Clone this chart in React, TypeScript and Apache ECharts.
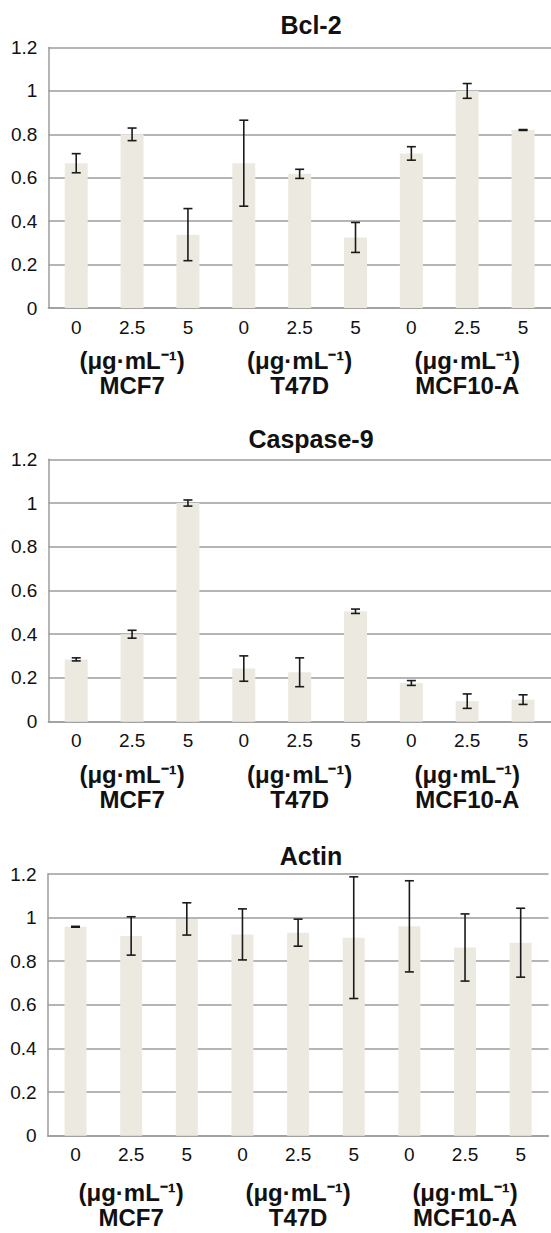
import React, { useEffect, useRef } from "react";
import * as echarts from "echarts";

const cellLines = ["MCF7", "T47D", "MCF10-A"];
const doses = ["0", "2.5", "5"];
const unitLabel = "(μg·mL⁻¹)";

const bcl2Values = [0.667, 0.8, 0.338, 0.667, 0.618, 0.325, 0.712, 1.0, 0.82];
const bcl2Errors = [0.044, 0.029, 0.12, 0.198, 0.021, 0.069, 0.031, 0.034, 0.002];

const casp9Values = [0.285, 0.4, 1.0, 0.243, 0.226, 0.505, 0.177, 0.094, 0.101];
const casp9Errors = [0.007, 0.018, 0.014, 0.058, 0.066, 0.01, 0.011, 0.033, 0.022];

const actinValues = [0.958, 0.916, 0.994, 0.923, 0.931, 0.908, 0.96, 0.863, 0.885];
const actinErrors = [0.002, 0.088, 0.074, 0.117, 0.062, 0.279, 0.209, 0.154, 0.158];

const panelTitles = ["Bcl-2", "Caspase-9", "Actin"];
const yMin = 0;
const yMax = 1.2;
const yStep = 0.2;

const FONT = "'Liberation Sans', Arial, Helvetica, sans-serif";
const GRID_COLOR = "#9c9c9c";
const BAR_COLOR = "#ECEAE0";
const ERR_COLOR = "#1a1a1a";

const layouts = [
  { top: 47.5, height: 260.5, left: 48.3, right: -8.5, barWidth: 23, titleY: 25, tickMargin: 10, groupMargin: 40 },
  { top: 459.3, height: 262.4, left: 48.3, right: -8.5, barWidth: 23, titleY: 439, tickMargin: 9, groupMargin: 40 },
  { top: 874, height: 261.7, left: 47.7, right: 2.5, barWidth: 22, titleY: 855.5, tickMargin: 9, groupMargin: 44 },
];

const panelData = [
  { values: bcl2Values, errors: bcl2Errors },
  { values: casp9Values, errors: casp9Errors },
  { values: actinValues, errors: actinErrors },
];

const xCategories: string[] = [];
cellLines.forEach(() => doses.forEach((d) => xCategories.push(d)));

function errorRender(params: any, api: any) {
  const x = api.value(0);
  const lo = api.value(1);
  const hi = api.value(2);
  const pHi = api.coord([x, hi]);
  const pLo = api.coord([x, lo]);
  const hw = 4.5;
  const style = { stroke: ERR_COLOR, lineWidth: 1.6 };
  return {
    type: "group",
    children: [
      { type: "line", shape: { x1: pHi[0], y1: pHi[1], x2: pLo[0], y2: pLo[1] }, style },
      { type: "line", shape: { x1: pHi[0] - hw, y1: pHi[1], x2: pHi[0] + hw, y2: pHi[1] }, style },
      { type: "line", shape: { x1: pLo[0] - hw, y1: pLo[1], x2: pLo[0] + hw, y2: pLo[1] }, style },
    ],
  };
}

function buildOption() {
  const grid: any[] = [];
  const xAxis: any[] = [];
  const yAxis: any[] = [];
  const series: any[] = [];
  const graphic: any[] = [];

  layouts.forEach((L, k) => {
    grid.push({ left: L.left, right: L.right, top: L.top, height: L.height, containLabel: false });
    xAxis.push({
      gridIndex: k,
      type: "category",
      position: "bottom",
      data: xCategories,
      boundaryGap: true,
      axisLine: { show: true, lineStyle: { color: GRID_COLOR, width: 1.5 } },
      axisTick: { show: false },
      axisLabel: { interval: 0, margin: L.tickMargin, fontSize: 19, lineHeight: 19, color: "#111", fontFamily: FONT },
      splitLine: { show: false },
    });
    xAxis.push({
      gridIndex: k,
      type: "category",
      position: "bottom",
      data: cellLines,
      boundaryGap: true,
      axisLine: { show: false },
      axisTick: { show: false },
      axisLabel: {
        interval: 0,
        margin: L.groupMargin,
        fontSize: 24,
        lineHeight: 25,
        fontWeight: "bold",
        color: "#111",
        fontFamily: FONT,
        formatter: (v: string) => unitLabel + "\n" + v,
      },
      splitLine: { show: false },
    });
    yAxis.push({
      gridIndex: k,
      type: "value",
      min: yMin,
      max: yMax,
      interval: yStep,
      axisLine: { show: true, lineStyle: { color: GRID_COLOR, width: 1.5 } },
      axisTick: { show: false },
      splitLine: { show: true, lineStyle: { color: GRID_COLOR, width: 1.5 } },
      axisLabel: {
        margin: 11,
        fontSize: 19,
        color: "#111",
        fontFamily: FONT,
        formatter: (v: number) => String(Math.round(v * 10) / 10),
      },
    });
    const d = panelData[k];
    series.push({
      type: "bar",
      xAxisIndex: k * 2,
      yAxisIndex: k,
      data: d.values,
      barWidth: L.barWidth,
      itemStyle: { color: BAR_COLOR },
      silent: true,
      z: 2,
    });
    series.push({
      type: "custom",
      xAxisIndex: k * 2,
      yAxisIndex: k,
      renderItem: errorRender,
      data: d.values.map((v, i) => [i, v - d.errors[i], v + d.errors[i]]),
      encode: { x: 0, y: [1, 2] },
      silent: true,
      z: 5,
    });
    graphic.push({
      type: "text",
      x: 311,
      y: L.titleY,
      style: {
        text: panelTitles[k],
        fill: "#111",
        font: `bold 25px ${FONT}`,
        textAlign: "center",
        textVerticalAlign: "middle",
      },
    });
  });

  return {
    animation: false,
    backgroundColor: "#ffffff",
    grid,
    xAxis,
    yAxis,
    series,
    graphic,
  };
}

export default function App() {
  const ref = useRef<HTMLDivElement>(null);
  useEffect(() => {
    if (!ref.current) return;
    const chart = echarts.init(ref.current, undefined, { renderer: "svg" });
    chart.setOption(buildOption() as any);
    return () => chart.dispose();
  }, []);
  return (
    <div
      ref={ref}
      style={{ position: "fixed", left: 0, top: 0, width: 551, height: 1233, background: "#fff" }}
    />
  );
}
